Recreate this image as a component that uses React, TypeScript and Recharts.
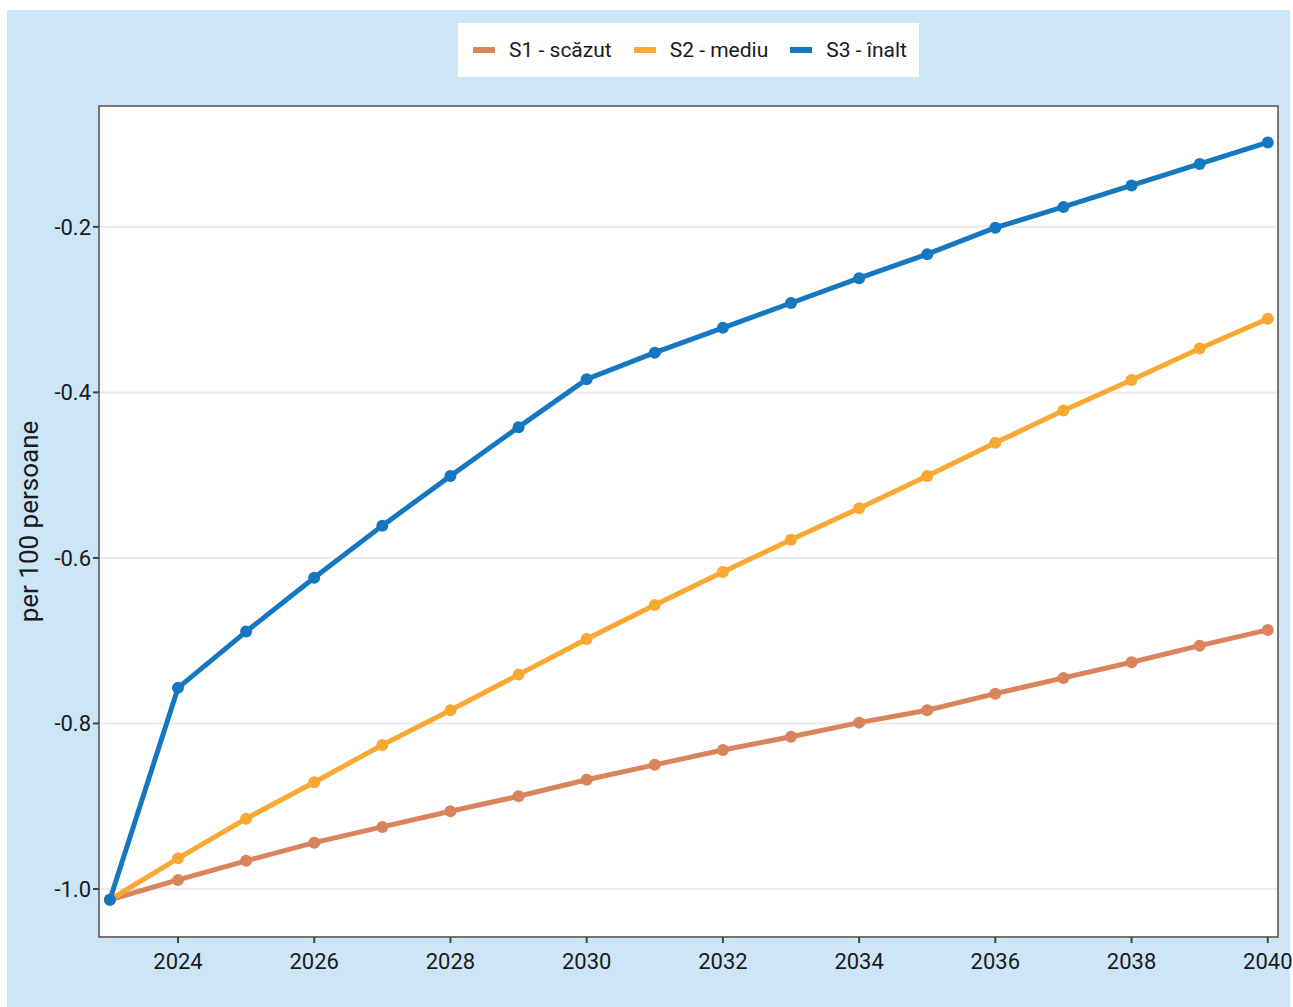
import React from "react";
import {
  LineChart,
  Line,
  XAxis,
  YAxis,
  CartesianGrid,
  ReferenceArea,
  Label,
} from "recharts";

const years = [2023, 2024, 2025, 2026, 2027, 2028, 2029, 2030, 2031, 2032, 2033, 2034, 2035, 2036, 2037, 2038, 2039, 2040];

const s1 = [-1.013, -0.989, -0.966, -0.944, -0.925, -0.906, -0.888, -0.868, -0.85, -0.832, -0.816, -0.799, -0.784, -0.764, -0.745, -0.726, -0.706, -0.687];
const s2 = [-1.013, -0.963, -0.915, -0.871, -0.826, -0.784, -0.741, -0.698, -0.657, -0.617, -0.578, -0.54, -0.501, -0.461, -0.422, -0.385, -0.347, -0.311];
const s3 = [-1.013, -0.757, -0.689, -0.624, -0.561, -0.501, -0.442, -0.384, -0.352, -0.322, -0.292, -0.262, -0.233, -0.201, -0.176, -0.15, -0.124, -0.098];

const xTicks = [2024, 2026, 2028, 2030, 2032, 2034, 2036, 2038, 2040];
const yTicks = [-1.0, -0.8, -0.6, -0.4, -0.2];

const series = [
  { key: "s1", name: "S1 - scăzut", color: "#d9845c" },
  { key: "s2", name: "S2 - mediu", color: "#f9a833" },
  { key: "s3", name: "S3 - înalt", color: "#1677c1" },
];

const data = years.map((year, i) => ({ year, s1: s1[i], s2: s2[i], s3: s3[i] }));

const X_DOMAIN: [number, number] = [2022.84, 2040.15];
const Y_DOMAIN: [number, number] = [-1.058, -0.054];

const FONT = "Roboto, 'Noto Sans', sans-serif";

function ChartLegend() {
  return (
    <div
      style={{
        position: "absolute",
        top: 13,
        left: 0,
        width: 1283,
        display: "flex",
        justifyContent: "center",
        paddingLeft: 92,
        paddingRight: 12,
        boxSizing: "border-box",
      }}
    >
      <div
        style={{
          background: "#fff",
          display: "flex",
          alignItems: "center",
          height: 54,
          padding: "0 12px 0 15px",
          fontFamily: FONT,
          fontSize: 21,
          color: "#1a1a1a",
        }}
      >
        {series.map((s, i) => (
          <div
            key={s.key}
            style={{ display: "flex", alignItems: "center", marginRight: i < series.length - 1 ? 22 : 0 }}
          >
            <div style={{ width: 22, height: 6, background: s.color, marginRight: 14 }} />
            <span>{s.name}</span>
          </div>
        ))}
      </div>
    </div>
  );
}

export default function App() {
  return (
    <div
      style={{
        position: "absolute",
        left: 7,
        top: 10,
        width: 1283,
        height: 997,
        background: "#cde6f7",
      }}
    >
      {/* let the last x tick label spill past the panel edge instead of being clipped */}
      <style>{".recharts-surface{overflow:visible}"}</style>
      <LineChart
        width={1283}
        height={997}
        data={data}
        margin={{ top: 96, right: 12, left: 0, bottom: 0 }}
      >
        <CartesianGrid vertical={false} stroke="#ebebeb" strokeWidth={2} fill="#ffffff" />
        <XAxis
          dataKey="year"
          type="number"
          domain={X_DOMAIN}
          ticks={xTicks}
          allowDataOverflow
          height={70}
          axisLine={false}
          tickLine={{ stroke: "#444", strokeWidth: 2 }}
          tickSize={6}
          tick={{ fill: "#1a1a1a", fontSize: 22, fontFamily: FONT, dy: 8 }}
        />
        <YAxis
          type="number"
          domain={Y_DOMAIN}
          ticks={yTicks}
          allowDataOverflow
          width={92}
          axisLine={false}
          tickLine={{ stroke: "#444", strokeWidth: 2 }}
          tickSize={6}
          tickFormatter={(v: number) => v.toFixed(1)}
          tick={{ fill: "#1a1a1a", fontSize: 22, fontFamily: FONT }}
        >
          <Label
            value="per 100 persoane"
            angle={-90}
            position="insideLeft"
            offset={22}
            style={{ fill: "#1a1a1a", fontSize: 26, fontFamily: FONT, textAnchor: "middle" }}
          />
        </YAxis>
        <ReferenceArea
          x1={X_DOMAIN[0]}
          x2={X_DOMAIN[1]}
          y1={Y_DOMAIN[0]}
          y2={Y_DOMAIN[1]}
          fill="none"
          stroke="#4d4d4d"
          strokeWidth={1.5}
          ifOverflow="visible"
        />
        {series.map((s) => (
          <Line
            key={s.key}
            dataKey={s.key}
            name={s.name}
            type="linear"
            stroke={s.color}
            strokeWidth={5}
            dot={{ r: 6, fill: s.color, stroke: s.color, strokeWidth: 0 }}
            isAnimationActive={false}
          />
        ))}
      </LineChart>
      <ChartLegend />
    </div>
  );
}
